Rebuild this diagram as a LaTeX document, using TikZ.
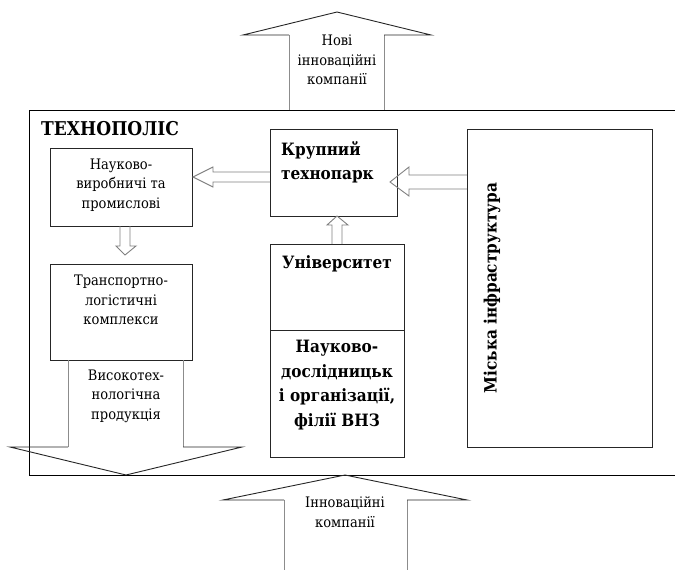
\documentclass[tikz,border=0pt]{standalone}
\usepackage{fontspec}
\setmainfont{DejaVu Serif Condensed}
\usetikzlibrary{positioning}

\begin{document}
\begin{tikzpicture}[x=1pt,y=-1pt,
  box/.style={draw=black!85,line width=0.9pt,inner sep=0pt,outer sep=0pt,anchor=north west},
  txt/.style={align=center,inner sep=0pt,font=\fontsize{14.5pt}{19.5pt}\selectfont},
  btxt/.style={align=center,inner sep=0pt,font=\bfseries\fontsize{17pt}{24.5pt}\selectfont},
  shaft/.style={draw=black!45,line width=0.9pt},
  head/.style={draw=black!85,line width=0.9pt},
  small/.style={draw=black!50,line width=0.9pt}]
\useasboundingbox (0,0) rectangle (675,570);

% frame of the technopolis
\draw[line width=0.9pt] (675,110) -- (29,110) -- (29,475) -- (675,475);
\node[btxt,anchor=west,font=\bfseries\fontsize{19pt}{24pt}\selectfont] (title) at (41,129) {ТЕХНОПОЛІС};

% boxes
\node[box,minimum width=142pt,minimum height=78pt] (prom) at (50,148) {};
\node[box,minimum width=142pt,minimum height=96pt] (transp) at (50,264) {};
\node[box,minimum width=127pt,minimum height=87pt] (tpark) at (270,129) {};
\node[box,minimum width=134pt,minimum height=86pt] (univ) at (270,244) {};
\node[box,minimum width=134pt,minimum height=127pt] (research) at (270,330) {};
\node[box,minimum width=185pt,minimum height=318pt] (infra) at (467,129) {};

% texts of the boxes
\node[txt] (promtxt) at (121,185) {Науково-\\виробничі та\\промислові};
\node[txt] (transptxt) at (121,300) {Транспортно-\\логістичні\\комплекси};
\node[btxt,align=left,anchor=north west] (tparktxt) at (281,141) {Крупний\\технопарк};
\node[btxt] (univtxt) at (337,264) {Університет};
\node[btxt] (researchtxt) at (337,385) {Науково-\\дослідницьк\\і організації,\\філії ВНЗ};
\node[btxt,rotate=90] (infratxt) at (492,288) {Міська інфраструктура};

% big arrow up: new companies
\draw[shaft] (289,110) -- (289,35);
\draw[shaft] (384,35) -- (384,110);
\draw[head] (289,35) -- (243,35) -- (337,12) -- (431,35) -- (384,35);
\node[txt] (newco) at (337,60) {Нові\\інноваційні\\компанії};

% big arrow down: products
\draw[shaft] (68,360) -- (68,447);
\draw[shaft] (183,360) -- (183,447);
\draw[head] (68,447) -- (10,447) -- (126,475) -- (242,447) -- (183,447);
\node[txt] (prod) at (126,396) {Високотех-\\нологічна\\продукція};

% big arrow up from below: companies
\draw[shaft] (284,570) -- (284,500);
\draw[shaft] (407,500) -- (407,570);
\draw[head] (284,500) -- (223,500) -- (345,475) -- (467,500) -- (407,500);
\node[txt] (inco) at (345,512) {Інноваційні\\компанії};

% small arrows between the boxes
\draw[small] (270,172) -- (213,172) -- (213,167) -- (193,177) -- (213,187) -- (213,182) -- (270,182);
\draw[small] (467,175) -- (409,175) -- (409,167) -- (390,182) -- (409,196) -- (409,189) -- (467,189);
\draw[small] (332,244) -- (332,225) -- (327,225) -- (337,216) -- (348,225) -- (342,225) -- (342,244);
\draw[small] (120,226) -- (120,246) -- (116,246) -- (125,255) -- (136,246) -- (130,246) -- (130,226);
\end{tikzpicture}
\end{document}
